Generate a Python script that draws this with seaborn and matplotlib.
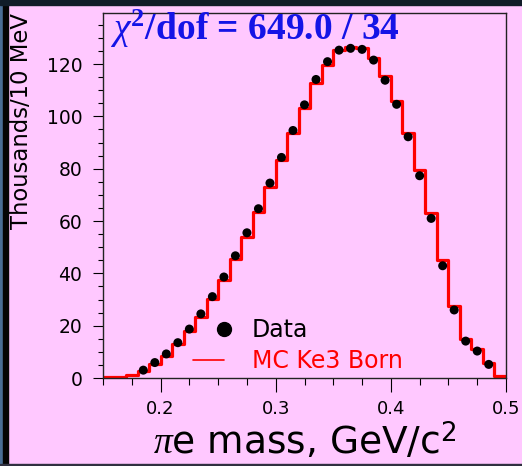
import numpy as np
import matplotlib
matplotlib.use("Agg")
import matplotlib.pyplot as plt
from matplotlib.lines import Line2D
from matplotlib.legend_handler import HandlerLine2D
from matplotlib.patches import Rectangle
from matplotlib.ticker import MultipleLocator
import seaborn as sns

# MC Ke3 Born histogram, 10 MeV bins from 0.15 to 0.50 GeV (thousands / bin)
bin_edges = np.round(np.arange(0.15, 0.5001, 0.01), 3)
mc_counts = [0.2, 0.4, 1.2, 2.8, 5.4, 8.4, 13.0, 18.0, 23.4, 30.2,
             37.5, 45.3, 54.0, 63.6, 73.1, 83.3, 93.7, 103.3, 112.9, 119.8,
             125.5, 126.5, 126.0, 122.4, 115.5, 106.0, 93.7, 79.5, 63.2, 45.1,
             27.5, 14.8, 11.0, 5.9, 0.7]

# data points at bin centres 0.185 ... 0.485
data_mass = np.round(np.arange(0.185, 0.4851, 0.01), 3)
data_counts = [3.0, 5.9, 9.2, 13.5, 18.7, 24.5, 31.1, 38.6, 46.7, 55.5,
               64.7, 74.5, 84.3, 94.6, 104.4, 114.1, 120.9, 125.3, 126.0, 125.6,
               121.5, 113.8, 104.6, 92.2, 77.3, 61.0, 42.9, 26.0, 14.1, 10.3,
               5.2]

pink = "#FFC8FF"

sns.set_style("ticks")
plt.rcParams["font.family"] = ["DejaVu Sans"]
plt.rcParams["text.color"] = "black"
plt.rcParams["xtick.color"] = "black"
plt.rcParams["ytick.color"] = "black"
plt.rcParams["mathtext.fontset"] = "custom"
plt.rcParams["mathtext.rm"] = "Liberation Serif"
plt.rcParams["mathtext.it"] = "Liberation Serif:italic"
plt.rcParams["mathtext.bf"] = "Liberation Serif:bold"
plt.rcParams["mathtext.sf"] = "DejaVu Sans"


class MarkerAtEnd(HandlerLine2D):
    # single legend marker drawn at the right end of the handle box
    def get_xdata(self, legend, xdescent, ydescent, width, height, fontsize):
        x_end = -xdescent + width
        return [x_end, x_end], [x_end]


fig = plt.figure(figsize=(5.22, 4.66), dpi=100, facecolor=pink)
ax = fig.add_axes([103 / 522, 1 - 378 / 466, 403 / 522, 365 / 466])
ax.set_facecolor(pink)

# outer frame decoration
fig.patches.append(Rectangle((0, 0), 3 / 522, 1, transform=fig.transFigure,
                             color="#4a6e96", zorder=1))
fig.patches.append(Rectangle((3 / 522, 0), 5 / 522, 1, transform=fig.transFigure,
                             color="#050505", zorder=1))
fig.patches.append(Rectangle((0, 1 - 5 / 466), 1, 5 / 466, transform=fig.transFigure,
                             color="#101c28", zorder=1))
fig.patches.append(Rectangle((0, 0), 1, 2 / 466, transform=fig.transFigure,
                             color="#303040", zorder=1))

mc_centres = (bin_edges[:-1] + bin_edges[1:]) / 2
sns.histplot(x=mc_centres, weights=mc_counts, bins=list(bin_edges), element="step",
             fill=False, color="red", linewidth=2.3, ax=ax)
sns.scatterplot(x=data_mass, y=data_counts, color="black", s=42,
                edgecolor="none", zorder=3, ax=ax)

ax.set_xlim(0.15, 0.5)
ax.set_ylim(0, 139.5)
ax.set_xlabel("")
ax.set_ylabel("")
ax.xaxis.set_major_locator(MultipleLocator(0.1))
ax.xaxis.set_minor_locator(MultipleLocator(0.025))
ax.yaxis.set_major_locator(MultipleLocator(20))
ax.yaxis.set_minor_locator(MultipleLocator(5))
ax.tick_params(axis="x", which="major", length=10, width=0.8, pad=6, labelsize=13)
ax.tick_params(axis="x", which="minor", length=5, width=0.8)
ax.tick_params(axis="y", which="major", length=7, width=0.8, pad=8, labelsize=13.5)
ax.tick_params(axis="y", which="minor", length=3.5, width=0.8)
for sp in ax.spines.values():
    sp.set_color("#222222")
    sp.set_linewidth(1.0)

data_handle = Line2D([], [], marker="o", color="black", linestyle="None", markersize=10)
mc_handle = Line2D([], [], color="red", linewidth=1.2)
leg = ax.legend([data_handle, mc_handle], ["Data", "MC Ke3 Born"], loc="center left",
                bbox_to_anchor=(0.223, 0.088), frameon=False, fontsize=17,
                handlelength=1.3, handletextpad=1.2, labelspacing=0.3,
                borderpad=0, borderaxespad=0, numpoints=1,
                handler_map={data_handle: MarkerAtEnd()})
leg.get_texts()[0].set_color("black")
leg.get_texts()[1].set_color("red")

ax.text(0.017, 0.925, r"$\chi^{\mathbf{2}}$/dof = 649.0 / 34", transform=ax.transAxes,
        family="Liberation Serif", weight="bold", fontsize=27, color="#1414E6",
        va="baseline", ha="left")

fig.text(305 / 522, 1 - 455 / 466, r"$\pi$e mass, GeV/c$^{\mathsf{2}}$",
         fontsize=27, ha="center", va="baseline")
fig.text(22 / 522, 1 - 121 / 466, "Thousands/10 MeV", rotation=90,
         fontsize=16.4, ha="center", va="center")

fig.savefig("out.png", dpi=100, facecolor=pink)
